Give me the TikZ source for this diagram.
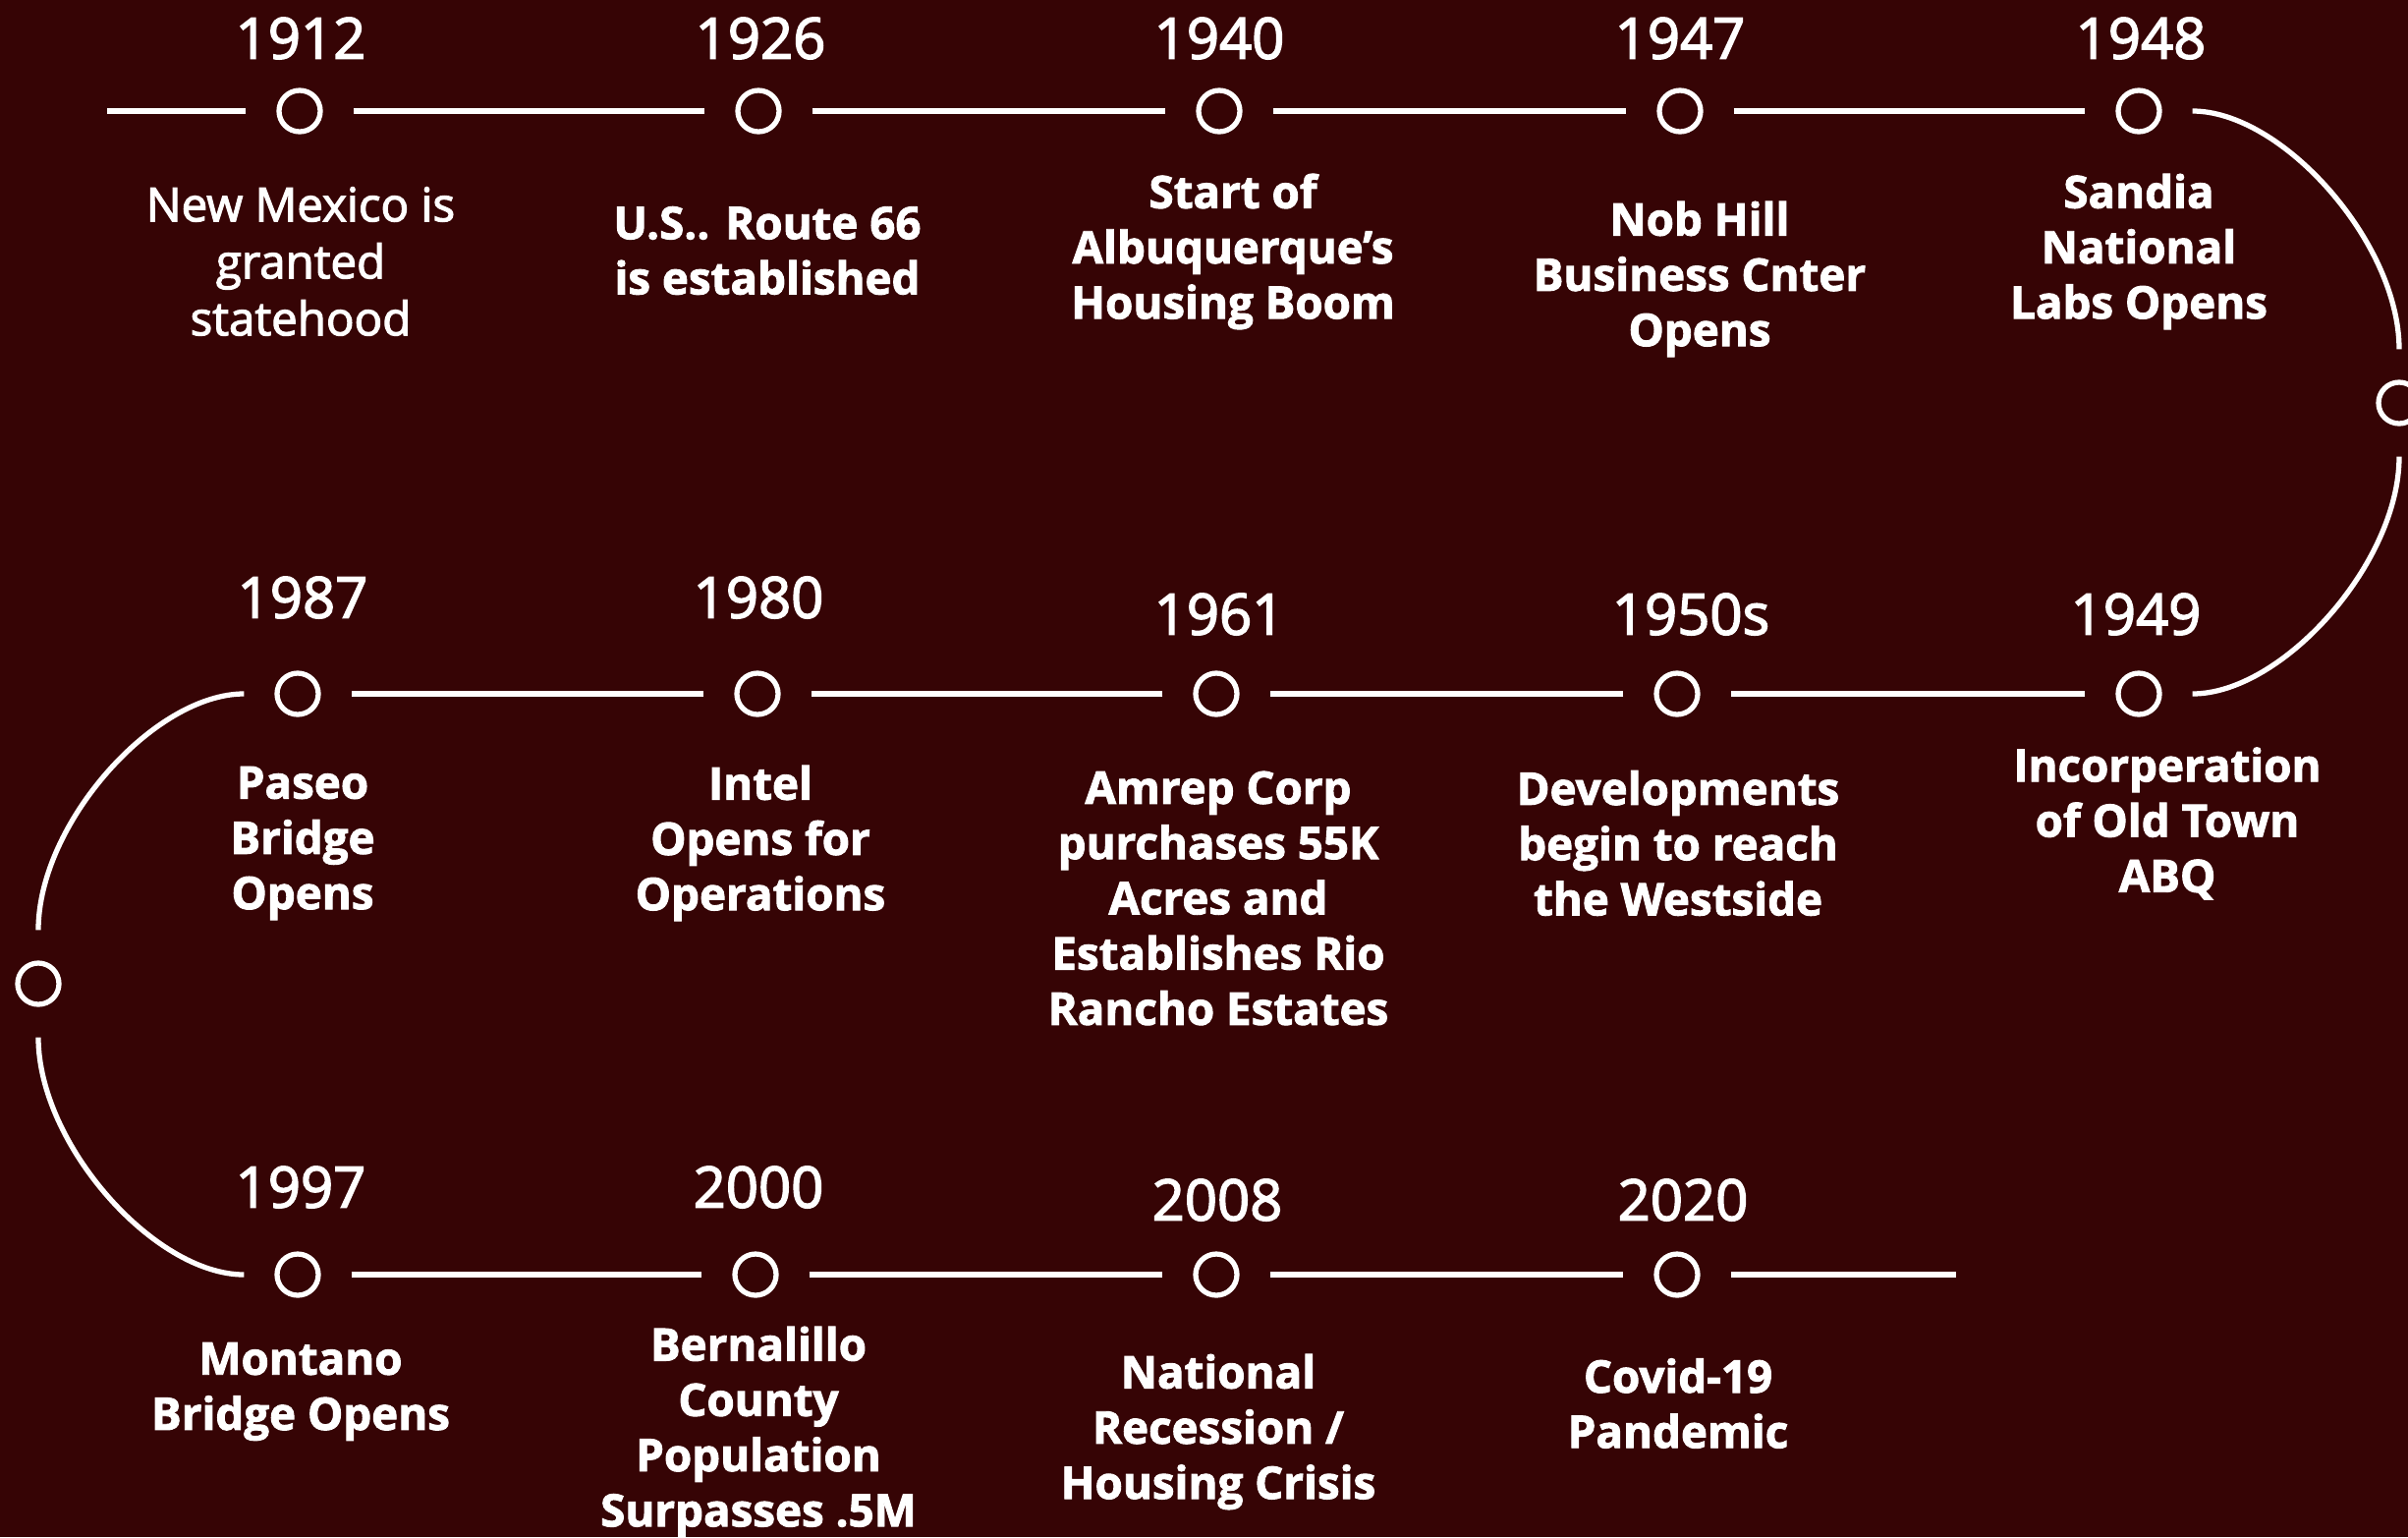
\documentclass[tikz,border=0pt]{standalone}
\usepackage{fontspec}
\setmainfont{Open Sans}
\definecolor{bgred}{HTML}{360405}

\tikzset{
  event/.style={circle, draw=white, line width=1.5pt, minimum size=4.2mm, inner sep=0pt},
  link/.style={white, line width=1.5pt, shorten <=3.1mm, shorten >=3.1mm},
  year/.style={text=white, font=\fontsize{16.5}{20}\selectfont\addfontfeature{FakeBold=2.5}},
  desc/.style={text=white, align=center, font=\bfseries\fontsize{13}{16}\selectfont\addfontfeature{FakeBold=2}},
}

\begin{document}
\begin{tikzpicture}
\fill[bgred] (0,0) rectangle (24.51,-15.64);
\useasboundingbox (0,0) rectangle (24.51,-15.64);

%% the event circles, row by row
\node[event] (n1912) at (3.05,-1.13) {};
\node[event] (n1926) at (7.72,-1.13) {};
\node[event] (n1940) at (12.41,-1.13) {};
\node[event] (n1947) at (17.10,-1.13) {};
\node[event] (n1948) at (21.77,-1.13) {};
\node[event] (turnR) at (24.42,-4.10) {};
\node[event] (n1949) at (21.77,-7.06) {};
\node[event] (n1950s) at (17.07,-7.06) {};
\node[event] (n1961) at (12.38,-7.06) {};
\node[event] (n1980) at (7.71,-7.06) {};
\node[event] (n1987) at (3.03,-7.06) {};
\node[event] (turnL) at (0.39,-10.01) {};
\node[event] (n1997) at (3.03,-12.97) {};
\node[event] (n2000) at (7.69,-12.97) {};
\node[event] (n2008) at (12.38,-12.97) {};
\node[event] (n2020) at (17.07,-12.97) {};
\coordinate (start) at (1.09,-1.13);
\coordinate (stop) at (19.91,-12.97);

%% straight pieces of the timeline
\draw[link, shorten <=0pt] (start) -- (n1912);
\draw[link] (n1912) -- (n1926);
\draw[link] (n1926) -- (n1940);
\draw[link] (n1940) -- (n1947);
\draw[link] (n1947) -- (n1948);
\draw[link] (n1949) -- (n1950s);
\draw[link] (n1950s) -- (n1961);
\draw[link] (n1961) -- (n1980);
\draw[link] (n1980) -- (n1987);
\draw[link] (n1997) -- (n2000);
\draw[link] (n2000) -- (n2008);
\draw[link] (n2008) -- (n2020);
\draw[link, shorten >=0pt] (n2020) -- (stop);

%% the two bends
\draw[link] (n1948) .. controls +(1.46,0) and +(0,1.63) .. (turnR);
\draw[link] (turnR) .. controls +(0,-1.63) and +(1.46,0) .. (n1949);
\draw[link] (n1987) .. controls +(-1.46,0) and +(0,1.63) .. (turnL);
\draw[link] (turnL) .. controls +(0,-1.63) and +(-1.46,0) .. (n1997);

%% years
\node[year] (t1912) at (3.06,-0.39) {1912};
\node[year] (t1926) at (7.74,-0.39) {1926};
\node[year] (t1940) at (12.41,-0.39) {1940};
\node[year] (t1947) at (17.10,-0.39) {1947};
\node[year] (t1948) at (21.79,-0.39) {1948};
\node[year] (t1987) at (3.08,-6.08) {1987};
\node[year] (t1980) at (7.72,-6.08) {1980};
\node[year] (t1961) at (12.41,-6.25) {1961};
\node[year] (t1950s) at (17.21,-6.25) {1950s};
\node[year] (t1949) at (21.74,-6.25) {1949};
\node[year] (t1997) at (3.06,-12.08) {1997};
\node[year] (t2000) at (7.72,-12.08) {2000};
\node[year] (t2008) at (12.39,-12.21) {2008};
\node[year] (t2020) at (17.13,-12.21) {2020};

%% what happened
\node[desc, font=\mdseries\fontsize{13.5}{16.5}\selectfont\addfontfeature{FakeBold=2.5}] (d1912) at (3.06,-2.66) {New Mexico is\\granted\\statehood};
\node[desc] (d1926) at (7.81,-2.55) {U.S.. Route 66\\is established};
\node[desc] (d1940) at (12.55,-2.56) {Start of\\Albuquerque’s\\Housing Boom};
\node[desc] (d1947) at (17.30,-2.84) {Nob Hill\\Business Cnter\\Opens};
\node[desc] (d1948) at (21.77,-2.56) {Sandia\\National\\Labs Opens};
\node[desc] (d1987) at (3.08,-8.58) {Paseo\\Bridge\\Opens};
\node[desc] (d1980) at (7.74,-8.58) {Intel\\Opens for\\Operations};
\node[desc] (d1961) at (12.40,-9.14) {Amrep Corp\\purchases 55K\\Acres and\\Establishes Rio\\Rancho Estates};
\node[desc] (d1950s) at (17.08,-8.58) {Developments\\begin to reach\\the Westside};
\node[desc] (d1949) at (22.06,-8.38) {Incorperation\\of Old Town\\ABQ};
\node[desc] (d1997) at (3.06,-14.16) {Montano\\Bridge Opens};
\node[desc] (d2000) at (7.72,-14.57) {Bernalillo\\County\\Population\\Surpasses .5M};
\node[desc] (d2008) at (12.40,-14.57) {National\\Recession /\\Housing Crisis};
\node[desc] (d2020) at (17.08,-14.28) {Covid-19\\Pandemic};
\end{tikzpicture}
\end{document}
